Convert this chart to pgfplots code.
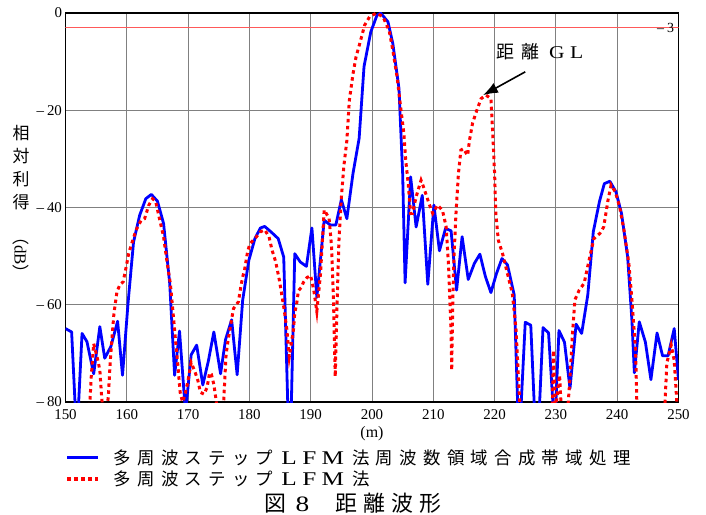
\documentclass[border=0pt]{standalone}
\usepackage{fontspec}
\setmainfont{Liberation Serif}
\newfontfamily\cjk{Noto Sans CJK JP}[LetterSpace=36]
\newfontfamily\cjkcap{Noto Sans CJK JP}[LetterSpace=28]
\newfontfamily\lat{Liberation Serif}[FakeStretch=1.3,LetterSpace=28]
\usepackage{pgfplots}
\pgfplotsset{compat=1.18}
\usetikzlibrary{arrows.meta}
\newcommand{\LFM}{\hspace{8bp}{\fontsize{19.5}{20}\selectfont\lat LFM}\hspace{8bp}}
\newcommand{\mn}{\textendash\hspace{3bp}}
\begin{document}
\begin{tikzpicture}
\useasboundingbox (-65.5bp,-113bp) rectangle (640.5bp,402bp);
\begin{axis}[
  scale only axis, width=613bp, height=389bp,
  xmin=150, xmax=250, ymin=-80, ymax=0,
  clip mode=individual,
  xtick={150,160,...,250}, ytick={-80,-60,-40,-20,0},
  yticklabels={\mn80,\mn60,\mn40,\mn20,0},
  grid=major, major grid style={gray, line width=1bp},
  major tick length=0pt,
  axis line style={line width=1.5bp},
  tick label style={font=\fontsize{15}{18}\selectfont},
  xticklabel style={yshift=-4bp},
  /pgf/number format/assume math mode=true,
  xlabel={(m)},
  xlabel style={font=\fontsize{16}{19}\selectfont},
  ylabel={{\cjk 相}\\[3bp]{\cjk 対}\\[3bp]{\cjk 利}\\[3bp]{\cjk 得}\\[0bp]\rotatebox{-90}{{\cjk （}dB{\cjk ）}}},
  ylabel style={rotate=-90, align=center, font=\fontsize{17}{20}\selectfont, at={(axis description cs:-0.0726,0.51)}, anchor=center},
  legend style={draw=none, fill=none, font=\fontsize{17.5}{20}\selectfont, at={(0,-0.112)}, anchor=north west, cells={anchor=west}, row sep=1bp, inner xsep=0pt},
  legend image code/.code={\draw[#1] (0bp,0bp) -- (31bp,0bp);},
]
\addplot[red!65, line width=0.7bp, forget plot] coordinates {(150,-3) (250,-3)};
\addplot[blue, line width=2.8bp, line join=round] coordinates {
(150,-64.9) (151.0,-65.6) (151.55,-80) (151.85,-100) (152.15,-80) (152.7,-65.9) (153.5,-67.6) (154.6,-74.2) (155.6,-64.5) (156.4,-71.0) (157.4,-68.6) (158.5,-63.4) (159.3,-74.5) (160.2,-59.7) (161.1,-47.1) (162.1,-41.6) (163.1,-38.2) (164.0,-37.3) (165.0,-38.7) (166.0,-43.3) (167.0,-55.6) (167.8,-74.5) (168.6,-65.4) (169.45,-80) (169.6,-90) (169.75,-80) (170.5,-70.3) (171.4,-68.3) (172.4,-76.5) (173.3,-71.6) (174.2,-65.6) (175.3,-74.2) (176.1,-67.2) (177.1,-63.1) (178.0,-74.4) (178.9,-59.1) (179.9,-50.9) (180.9,-46.4) (181.8,-44.2) (182.5,-43.9) (183.6,-45.1) (184.7,-46.4) (185.6,-50.2) (186.25,-80) (186.55,-100) (186.85,-80) (187.4,-49.5) (188.3,-51.2) (189.3,-52.1) (190.2,-44.2) (191.0,-58.5) (192.2,-42.6) (193.2,-43.6) (194.1,-43.6) (195.0,-38.4) (195.9,-42.3) (196.9,-33.0) (197.9,-25.8) (198.7,-11.0) (199.8,-3.9) (200.8,-0.5) (201.4,0) (202.6,-1.8) (203.4,-6.3) (204.4,-15.5) (205.0,-33.0) (205.4,-55.5) (206.3,-33.7) (207.2,-44.0) (208.2,-37.5) (209.1,-55.8) (210.1,-39.5) (211.0,-48.9) (212.0,-44.3) (212.9,-44.8) (213.8,-57.0) (214.7,-46.0) (215.7,-54.8) (216.7,-51.5) (217.6,-49.6) (218.5,-54.2) (219.4,-57.5) (220.3,-53.6) (221.2,-50.5) (222.1,-51.8) (223.2,-58.0) (223.75,-80) (224.05,-100) (224.35,-80) (225.0,-63.6) (225.9,-64.2) (226.45,-80) (226.9,-100) (227.35,-80) (227.9,-64.7) (228.8,-65.8) (229.5,-80) (229.75,-100) (230.0,-80) (230.5,-65.3) (231.4,-67.7) (232.3,-77.2) (233.3,-64.0) (234.2,-65.9) (235.2,-58.0) (236.1,-45.0) (237.1,-38.8) (237.9,-35.1) (238.8,-34.6) (239.8,-36.8) (240.7,-41.2) (241.7,-50.1) (242.4,-63.2) (242.8,-74.0) (243.6,-63.5) (244.6,-67.7) (245.5,-75.4) (246.5,-65.8) (247.4,-70.5) (248.3,-70.5) (249.3,-64.9) (250,-75.5)
};
\addlegendentry{\hspace{12bp}{\cjk 多周波ステップ}\LFM{\cjk 法周波数領域合成帯域処理}}
\addplot[red, line width=3bp, dash pattern=on 3.5bp off 3.5bp] coordinates {
(150,-95) (153.6,-90) (154.0,-79.6) (154.2,-74.8) (154.6,-68) (155.2,-71) (155.6,-73.4) (155.9,-79) (156.4,-86) (157.0,-78.6) (157.3,-71.6) (157.6,-66.6) (157.9,-61.8) (158.4,-57.3) (158.9,-55.8) (159.4,-55.3) (159.9,-52.2) (160.3,-49.5) (160.8,-47.4) (161.5,-44.7) (162.3,-42.7) (162.9,-42.3) (163.6,-39.5) (164.2,-38.2) (164.7,-38.7) (165.4,-42.7) (166.0,-46.0) (166.6,-51.5) (167.1,-55.6) (167.5,-61) (167.9,-66.6) (168.3,-72) (168.7,-78) (169.1,-80) (169.5,-78.5) (170.0,-75.5) (170.5,-71.9) (171.1,-73.7) (171.6,-75.6) (172.0,-78) (172.6,-78.4) (173.1,-77) (173.5,-74) (173.8,-74.3) (174.2,-76.4) (174.5,-79) (175.0,-84) (175.8,-80) (176.0,-75) (176.2,-70.2) (176.5,-67.5) (177.2,-62.3) (177.4,-60.8) (178.2,-59.4) (178.6,-56.3) (178.9,-54.3) (179.2,-52.9) (179.7,-49.1) (180.1,-47.4) (180.9,-46.4) (181.8,-45) (182.5,-44.6) (183.2,-46) (183.7,-48.8) (184.3,-51.2) (184.9,-55) (185.3,-58.1) (185.7,-61.2) (186.1,-65) (186.5,-70.7) (186.9,-67.4) (187.2,-65) (187.4,-61.6) (187.7,-59.9) (188.0,-57.1) (188.5,-56.4) (188.8,-55.4) (189.4,-54.4) (190.0,-54.0) (190.5,-57) (191.0,-61.4) (191.6,-53.6) (192.2,-40.5) (193.0,-42.2) (193.4,-48) (193.7,-58) (194.0,-74.8) (194.3,-60) (194.6,-47) (195.0,-38) (195.4,-31.6) (195.9,-26.2) (196.3,-18) (196.9,-12.5) (197.4,-9) (198.0,-6.3) (198.8,-2.5) (199.6,-0.8) (200.7,0) (201.8,-0.8) (202.8,-3.6) (203.4,-7.7) (204.1,-13.2) (204.6,-18.6) (205.2,-24.8) (205.5,-30.3) (205.9,-35) (206.3,-41.2) (206.6,-41.2) (207.2,-37.8) (208.0,-34.4) (208.5,-36.1) (209.3,-39.2) (209.9,-41.2) (210.7,-39.5) (211.5,-40.6) (212.1,-44.0) (212.5,-52.2) (212.7,-59) (212.9,-65.9) (213.0,-73.5) (213.2,-57.7) (213.4,-49.5) (213.7,-41.2) (214.1,-33) (214.5,-28.2) (214.9,-27.9) (215.6,-29.3) (215.9,-26.2) (216.4,-22.7) (217.1,-20) (217.8,-17.6) (218.6,-16.9) (219.4,-17.6) (219.7,-24.8) (220.0,-33) (220.2,-41.2) (220.6,-46.7) (221.3,-49.5) (222.1,-53.6) (222.9,-57.7) (223.5,-65.2) (223.8,-72.8) (224.1,-80) (224.5,-90) (229.3,-88) (229.6,-69.4) (229.9,-82) (230.6,-74.5) (230.9,-82) (231.9,-82) (232.3,-75) (232.7,-66) (233.1,-59) (233.8,-57) (234.6,-55.6) (235.4,-50.9) (236.2,-46.4) (237.2,-45.3) (237.8,-44) (238.5,-38.5) (239.0,-35.4) (239.7,-36.8) (240.4,-39.9) (241.1,-44.6) (241.9,-51.5) (242.4,-59) (243.0,-69.4) (243.2,-80) (243.6,-90) (247.5,-90) (247.8,-80) (248.1,-72) (248.8,-68.3) (249.3,-71.4) (249.7,-79.5) (250,-85)
};
\addlegendentry{\hspace{12bp}{\cjk 多周波ステップ}\LFM{\cjk 法}}
\node[anchor=east, font=\fontsize{14}{16}\selectfont, inner sep=0pt] at (axis cs:249.3,-3.1) {\mn3};
\node[font=\fontsize{18}{21}\selectfont] at (axis cs:227.4,-8.0) {{\cjk 距離}\hspace{10bp}{\fontspec{Liberation Serif}[FakeStretch=1.2,LetterSpace=30]GL}};
\draw[-{Latex[length=15bp,width=11bp]}, line width=1.6bp] (axis cs:225.0,-12.1) -- (axis cs:218.1,-16.9);
\node[font=\fontsize{22}{26}\selectfont] at (axis description cs:0.469,-0.2596) {{\cjkcap 図}\hspace{9bp}{\fontspec{Liberation Serif}[FakeStretch=1.25]8}\hspace{26bp}{\cjkcap 距離波形}};
\end{axis}
\end{tikzpicture}
\end{document}
